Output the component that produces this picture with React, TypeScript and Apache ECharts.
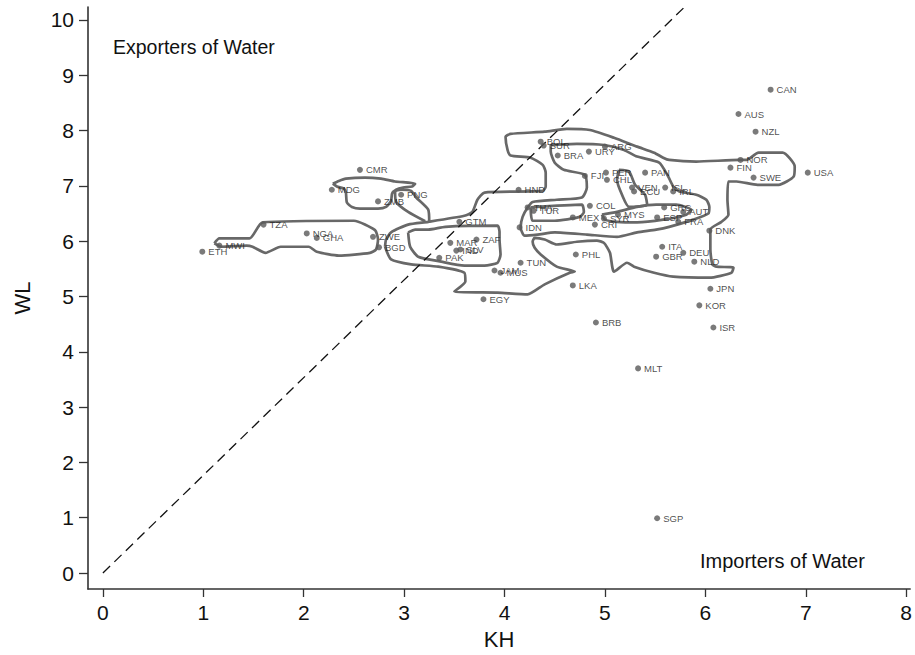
import React, { useEffect, useRef } from "react";
import * as echarts from "echarts";

const countries = ["CAN","AUS","NZL","NOR","FIN","SWE","USA","BOL","SUR","BRA","URY","ARG","FJI","PER","CHL","PAN","VEN","ECU","ISL","IRL","COL","THA","TUR","MEX","CRI","SYR","MYS","GRC","AUT","ESP","FRA","DNK","ITA","GBR","DEU","NLD","PHL","JPN","KOR","ISR","BRB","LKA","TUN","JAM","MUS","EGY","MAR","ZAF","IND","SLV","PAK","IDN","GTM","HND","CMR","MDG","ZMB","PNG","TZA","NGA","GHA","ZWE","BGD","MWI","ETH","MLT","SGP"];
const kh = [6.65,6.33,6.50,6.35,6.25,6.48,7.02,4.36,4.39,4.53,4.84,5.00,4.80,5.01,5.02,5.40,5.27,5.29,5.60,5.68,4.85,4.23,4.29,4.68,4.90,4.99,5.13,5.59,5.78,5.52,5.73,6.04,5.57,5.51,5.78,5.89,4.71,6.05,5.94,6.08,4.91,4.68,4.16,3.90,3.96,3.79,3.46,3.72,3.52,3.56,3.35,4.15,3.55,4.14,2.56,2.28,2.74,2.97,1.60,2.03,2.13,2.69,2.75,1.16,0.99,5.33,5.52];
const wl = [8.74,8.30,7.98,7.47,7.33,7.15,7.24,7.80,7.73,7.55,7.62,7.71,7.18,7.24,7.11,7.24,6.97,6.90,6.97,6.90,6.64,6.61,6.55,6.43,6.30,6.41,6.48,6.61,6.53,6.43,6.35,6.19,5.90,5.72,5.79,5.63,5.76,5.14,4.84,4.44,4.53,5.20,5.61,5.47,5.43,4.95,5.97,6.03,5.83,5.85,5.70,6.25,6.35,6.93,7.29,6.93,6.72,6.84,6.30,6.14,6.06,6.08,5.89,5.92,5.81,3.70,0.99];

const xTicks = [0,1,2,3,4,5,6,7,8];
const yTicks = [0,1,2,3,4,5,6,7,8,9,10];
const diagonal = [[0,0],[5.79,10.23]];

const contourTail = [[1.11,5.96],[1.16,6.05],[1.46,6.05],[1.59,6.34],[2.50,6.37],[2.71,6.20],[2.74,6.03],[2.72,5.85],[2.66,5.79],[2.35,5.74],[2.13,5.81],[2.05,5.90],[1.77,5.90],[1.62,5.79],[1.49,5.90],[1.43,5.92],[1.18,5.90],[1.11,5.96]];
const contourMdg = [[2.29,7.04],[2.35,7.09],[2.42,7.13],[2.61,7.15],[2.77,7.13],[2.91,7.08],[3.11,7.04],[3.08,6.99],[2.99,6.97],[2.92,6.93],[2.88,6.86],[2.87,6.73],[2.82,6.62],[2.74,6.59],[2.56,6.59],[2.48,6.62],[2.43,6.70],[2.42,6.88],[2.40,6.95],[2.33,6.99],[2.29,7.04]];
const contourPng = [[3.21,6.36],[3.04,6.53],[2.92,6.71],[2.91,6.90],[2.97,6.93],[3.07,6.91],[3.12,6.79],[3.24,6.57],[3.25,6.34]];
const contourOuter = [[2.81,5.90],[2.82,6.03],[2.87,6.16],[3.04,6.30],[3.24,6.35],[3.60,6.46],[3.68,6.53],[3.73,6.75],[3.80,6.88],[4.38,6.91],[4.41,6.99],[4.41,7.24],[4.38,7.38],[4.26,7.51],[4.06,7.55],[4.03,7.65],[4.01,7.89],[4.06,7.94],[4.40,7.98],[4.62,8.03],[4.85,8.01],[5.09,7.87],[5.32,7.71],[5.49,7.60],[5.58,7.51],[5.64,7.47],[5.91,7.44],[6.34,7.47],[6.41,7.47],[6.53,7.60],[6.77,7.60],[6.89,7.35],[6.88,7.17],[6.73,7.02],[6.52,7.02],[6.31,7.08],[6.23,7.08],[6.22,6.75],[6.23,6.48],[6.16,6.35],[6.05,6.21],[6.05,5.85],[6.07,5.58],[6.11,5.54],[6.28,5.52],[6.26,5.43],[6.04,5.34],[5.68,5.36],[5.49,5.43],[5.29,5.54],[5.22,5.61],[5.09,5.45],[5.05,5.79],[4.99,5.97],[4.92,6.01],[4.72,5.99],[4.52,5.94],[4.40,6.03],[4.30,6.06],[4.28,5.99],[4.30,5.88],[4.36,5.76],[4.52,5.54],[4.70,5.45],[4.65,5.43],[4.40,5.22],[4.23,5.04],[3.93,5.07],[3.50,5.09],[3.61,5.27],[3.60,5.43],[3.34,5.54],[3.07,5.58],[2.87,5.67],[2.81,5.90]];
const contourOval = [[3.04,6.16],[3.11,6.21],[3.24,6.21],[3.41,6.26],[3.93,6.28],[3.95,6.17],[3.95,6.03],[3.96,5.76],[3.93,5.61],[3.80,5.56],[3.60,5.56],[3.37,5.63],[3.14,5.72],[3.06,5.90],[3.04,6.16]];
const contourUpper = [[4.46,7.74],[4.72,7.76],[4.99,7.74],[5.19,7.65],[5.32,7.53],[5.54,7.42],[5.63,7.17],[5.68,6.99],[5.74,6.90],[5.91,6.84],[6.01,6.75],[6.04,6.62],[6.03,6.50],[5.88,6.39],[5.64,6.26],[5.51,6.21],[5.32,6.16],[5.12,6.08],[4.82,6.12],[4.50,6.16],[4.33,6.12],[4.20,6.10],[4.16,6.25],[4.18,6.44],[4.23,6.61],[4.28,6.71],[4.52,6.75],[4.77,6.79],[4.82,6.97],[4.80,7.20],[4.59,7.29],[4.50,7.42],[4.46,7.62],[4.46,7.74]];
const contourBox = [[4.26,6.61],[4.77,6.66],[4.79,6.53],[4.75,6.44],[4.50,6.37],[4.28,6.37],[4.26,6.61]];
const contourBand = [[4.97,6.48],[5.12,6.53],[5.32,6.62],[5.51,6.66],[5.71,6.66],[5.86,6.57],[5.81,6.48],[5.58,6.39],[5.32,6.34],[5.12,6.35],[5.00,6.39],[4.97,6.48]];
const contourLobe = [[5.14,7.29],[5.24,7.26],[5.30,7.02],[5.40,6.84],[5.42,6.66],[5.24,6.62],[5.17,6.84],[5.12,7.11],[5.14,7.29]];

const contours = [contourTail, contourMdg, contourPng, contourOuter, contourOval, contourUpper, contourBox, contourBand, contourLobe];

const FONT = "'Liberation Sans', Arial, Helvetica, sans-serif";

export default function App() {
  const ref = useRef<HTMLDivElement>(null);
  useEffect(() => {
    if (!ref.current) return;
    const chart = echarts.init(ref.current, undefined, { renderer: "svg" });
    const points = countries.map((c, i) => [kh[i], wl[i], c]);
    const contourSeries = contours.map((c) => ({
      type: "line",
      data: c,
      symbol: "none",
      smooth: 0.2,
      lineStyle: { color: "#686868", width: 2.7 },
      z: 2,
      silent: true,
    }));
    chart.setOption({
      animation: false,
      backgroundColor: "#ffffff",
      textStyle: { fontFamily: FONT },
      grid: { left: 88, top: 7, right: 0, bottom: 65, containLabel: false },
      xAxis: {
        type: "value",
        min: -0.1485,
        max: 8.04,
        name: "KH",
        nameLocation: "middle",
        nameGap: 39,
        nameTextStyle: { fontSize: 22, color: "#111", fontFamily: FONT },
        axisLine: { show: true, onZero: false, lineStyle: { color: "#333", width: 1.6 } },
        axisTick: { show: true, length: 8, customValues: xTicks, lineStyle: { color: "#333", width: 1.3 } },
        axisLabel: { customValues: xTicks, fontSize: 21, color: "#111", margin: 13, fontFamily: FONT },
        splitLine: { show: false },
      },
      yAxis: {
        type: "value",
        min: -0.289,
        max: 10.235,
        name: "WL",
        nameLocation: "middle",
        nameGap: 55,
        nameTextStyle: { fontSize: 22, color: "#111", fontFamily: FONT },
        axisLine: { show: true, onZero: false, lineStyle: { color: "#333", width: 1.6 } },
        axisTick: { show: true, length: 9, customValues: yTicks, lineStyle: { color: "#333", width: 1.3 } },
        axisLabel: { customValues: yTicks, fontSize: 21, color: "#111", margin: 14, fontFamily: FONT },
        splitLine: { show: false },
      },
      graphic: [
        { type: "text", left: 113, top: 37, style: { text: "Exporters of Water", fontSize: 19.5, fill: "#111", fontFamily: FONT } },
        { type: "text", left: 700, top: 551, style: { text: "Importers of Water", fontSize: 20, fill: "#111", fontFamily: FONT } },
      ],
      series: [
        ...contourSeries,
        {
          type: "line",
          data: diagonal,
          symbol: "none",
          lineStyle: { color: "#111", width: 1.3, type: [10, 6] },
          z: 3,
          silent: true,
        },
        {
          type: "scatter",
          data: points,
          symbolSize: 6,
          itemStyle: { color: "#595959" },
          label: {
            show: true,
            position: "right",
            distance: 3,
            formatter: (p: any) => p.data[2],
            fontSize: 9.5,
            color: "#222",
            fontFamily: FONT,
          },
          z: 4,
        },
      ],
    });
    return () => chart.dispose();
  }, []);
  return (
    <div
      ref={ref}
      style={{ position: "fixed", left: 0, top: 0, width: 915, height: 655, background: "#fff" }}
    />
  );
}
